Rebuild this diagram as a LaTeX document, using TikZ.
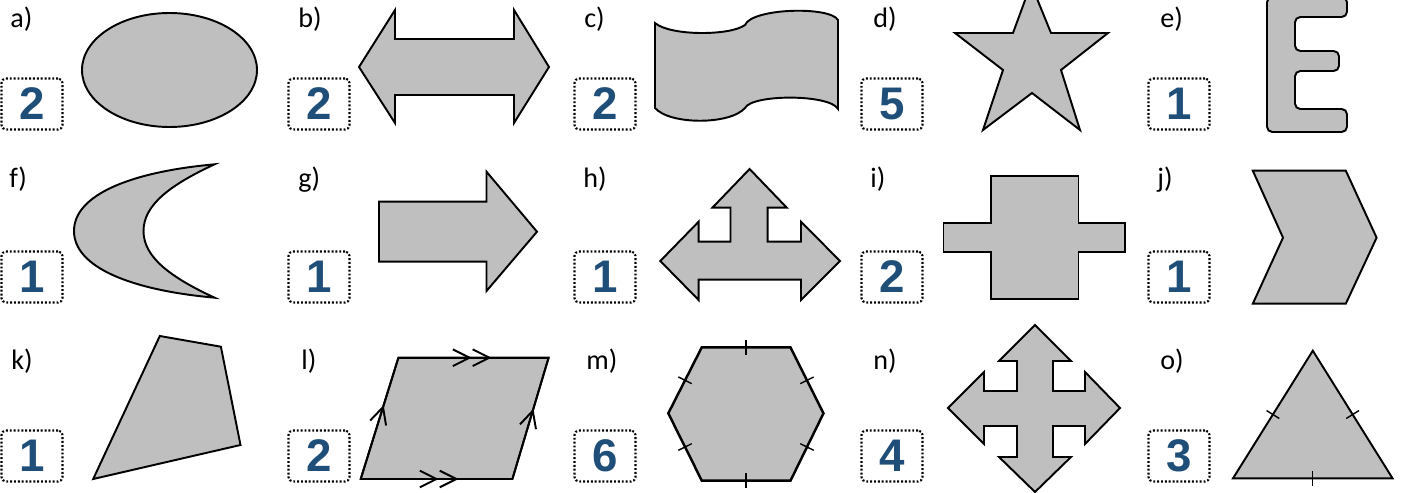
\documentclass[tikz,border=0pt]{standalone}
\usepackage{fontspec}
\setmainfont{Carlito}
\newfontfamily\numfont{Liberation Sans}
\usepackage{xcolor}
\usepackage{tikz}
\usetikzlibrary{calc}
\usetikzlibrary{arrows.meta}
\usetikzlibrary{decorations.markings}
\definecolor{numblue}{HTML}{1F4E79}
\definecolor{shapegray}{HTML}{BFBFBF}
\newcommand{\sidetick}[2]{\draw[tickline] ($(#1)!0.5!(#2)!0.15cm!90:(#2)$) -- ($(#1)!0.5!(#2)!0.15cm!-90:(#2)$);}

\begin{document}
\begin{tikzpicture}[
  x=0.02cm, y=-0.02cm,
  line join=miter,
  font=\fontsize{16}{18}\selectfont
]
\tikzset{
    numbox/.style = {rectangle, draw=black, rounded corners=2.5pt, line width=1.2pt, dash pattern=on 1.1pt off 1.1pt, minimum width=1.22cm, minimum height=1.02cm, inner sep=0pt, text=numblue, font=\numfont\bfseries\fontsize{26}{26}\selectfont},
    lbl/.style = {anchor=base west, inner sep=0pt},
    figure/.style = {draw=black, fill=shapegray, line width=1.1pt},
    tickline/.style = {draw=black, line width=0.8pt},
    twobarb/.style = {postaction={decorate}, decoration={markings, mark=at position #1 with {\arrow{Straight Barb[length=9.5pt,width=9.5pt] Straight Barb[length=9.5pt,width=9.5pt]}}}},
    onebarb/.style = {postaction={decorate}, decoration={markings, mark=at position #1 with {\arrow{Straight Barb[length=9.5pt,width=9.5pt]}}}},
}
\useasboundingbox (0,0) rectangle (1403,493);

% labels
\node[lbl] (la) at (10,28) {a)};
\node[lbl] (lb) at (298,28) {b)};
\node[lbl] (lc) at (584,28) {c)};
\node[lbl] (ld) at (873,28) {d)};
\node[lbl] (le) at (1160,28) {e)};
\node[lbl] (lf) at (9,188) {f)};
\node[lbl] (lg) at (298,188) {g)};
\node[lbl] (lh) at (583,188) {h)};
\node[lbl] (li) at (870,188) {i)};
\node[lbl] (lj) at (1157,188) {j)};
\node[lbl] (lk) at (11,369) {k)};
\node[lbl] (ll) at (301,369) {l)};
\node[lbl] (lm) at (586,369) {m)};
\node[lbl] (ln) at (873,369) {n)};
\node[lbl] (lo) at (1160,369) {o)};

% answer boxes
\node[numbox] (na) at (32,104) {2};
\node[numbox] (nb) at (319,104) {2};
\node[numbox] (nc) at (605,104) {2};
\node[numbox] (nd) at (892,104) {5};
\node[numbox] (ne) at (1179,104) {1};
\node[numbox] (nf) at (32,277) {1};
\node[numbox] (ng) at (319,277) {1};
\node[numbox] (nh) at (605,277) {1};
\node[numbox] (ni) at (892,277) {2};
\node[numbox] (nj) at (1179,277) {1};
\node[numbox] (nk) at (32,456) {1};
\node[numbox] (nl) at (319,456) {2};
\node[numbox] (nm) at (605,456) {6};
\node[numbox] (nn) at (892,456) {4};
\node[numbox] (no) at (1179,456) {3};

% a) ellipse
\draw[figure] (169.5,70) ellipse [x radius=87.5, y radius=57];

% b) double arrow
\draw[figure] (359,67) -- (395,10) -- (395,39) -- (514,39) -- (514,10) -- (549,67)
  -- (514,123) -- (514,95) -- (395,95) -- (395,123) -- cycle;

% c) wave
\draw[figure] (655,23) .. controls (670,36) and (730,36) .. (745,25)
  .. controls (752,8) and (830,6) .. (838,20) -- (838,109)
  .. controls (830,94) and (752,94) .. (745,108)
  .. controls (730,125) and (670,125) .. (655,108) -- cycle;

% d) star
\draw[figure] (1031,-16) -- (1051,33) -- (1108,33) -- (1061,70) -- (1080,130) -- (1032,93)
  -- (983,130) -- (1003,70) -- (955,33) -- (1013,33) -- cycle;

% e) letter E
\draw[figure, rounded corners=3pt] (1267,-3) -- (1347,-3) -- (1347,17) -- (1295,17) -- (1295,51)
  -- (1339,51) -- (1339,71) -- (1295,71) -- (1295,109) -- (1347,109) -- (1347,132)
  -- (1267,132) -- cycle;

% f) crescent
\draw[figure] (214.6,164.3) .. controls (130,172) and (74,195) .. (74,231)
  .. controls (74,267) and (130,290) .. (214.6,297.7)
  .. controls (170,277) and (143.5,257) .. (143.5,231)
  .. controls (143.5,205) and (170,185) .. cycle;

% g) arrow
\draw[figure] (379,201.7) -- (486.5,201.7) -- (486.5,171.7) -- (537,231.7) -- (486.5,291)
  -- (486.5,261.7) -- (379,261.7) -- cycle;

% h) three-way arrow
\draw[figure] (749.6,169) -- (786.8,207.7) -- (767.7,207.7) -- (767.7,241.7) -- (801,241.7)
  -- (801,221.7) -- (840,261) -- (801,300) -- (801,279.7) -- (698.6,279.7) -- (698.6,300)
  -- (660.3,261) -- (698.6,221.7) -- (698.6,241.7) -- (730.5,241.7) -- (730.5,207.7)
  -- (712.4,207.7) -- cycle;

% i) cross
\draw[figure] (990.8,175.7) -- (1078.5,175.7) -- (1078.5,222.7) -- (1125.3,222.7) -- (1125.3,251.7)
  -- (1078.5,251.7) -- (1078.5,299) -- (990.8,299) -- (990.8,251.7) -- (943.5,251.7)
  -- (943.5,222.7) -- (990.8,222.7) -- cycle;

% j) chevron
\draw[figure] (1252.8,170.7) -- (1345.8,170.7) -- (1376.6,237.7) -- (1345.8,303.7)
  -- (1252.8,303.7) -- (1283,237.7) -- cycle;

% k) quadrilateral
\draw[figure] (159.8,336) -- (220.9,346.7) -- (240.5,445) -- (93.2,479) -- cycle;

% l) parallelogram
\coordinate (l1) at (360.7,479);
\coordinate (l2) at (512.4,479);
\coordinate (l3) at (548.6,357.7);
\coordinate (l4) at (398.4,357.7);
\draw[figure] (l1) -- (l2) -- (l3) -- (l4) -- cycle;
\draw[line width=1.1pt, twobarb=0.62] (l4) -- (l3);
\draw[line width=1.1pt, twobarb=0.645] (l1) -- (l2);
\draw[line width=1.1pt, onebarb=0.61] (l1) -- (l4);
\draw[line width=1.1pt, onebarb=0.58] (l2) -- (l3);

% m) hexagon
\coordinate (m1) at (701.8,347.3);
\coordinate (m2) at (790.5,347.3);
\coordinate (m3) at (823.5,413.3);
\coordinate (m4) at (790.5,480.7);
\coordinate (m5) at (701.8,480.7);
\coordinate (m6) at (668.3,413.3);
\draw[figure, line width=1.4pt] (m1) -- (m2) -- (m3) -- (m4) -- (m5) -- (m6) -- cycle;
\sidetick{m1}{m2}
\sidetick{m2}{m3}
\sidetick{m3}{m4}
\sidetick{m4}{m5}
\sidetick{m5}{m6}
\sidetick{m6}{m1}

% n) four-way arrow
\draw[figure] (1035,325) -- (1071,361) -- (1053,361) -- (1053,391) -- (1085,391) -- (1085,372)
  -- (1120,408) -- (1085,444) -- (1085,426) -- (1053,426) -- (1053,457) -- (1071,457)
  -- (1035,492) -- (999,457) -- (1017,457) -- (1017,426) -- (984,426) -- (984,444)
  -- (948,408) -- (984,372) -- (984,391) -- (1017,391) -- (1017,361) -- (999,361) -- cycle;

% o) triangle
\coordinate (o1) at (1312.8,350.7);
\coordinate (o2) at (1392.5,478.3);
\coordinate (o3) at (1233,478.3);
\draw[figure] (o1) -- (o2) -- (o3) -- cycle;
\sidetick{o1}{o2}
\sidetick{o2}{o3}
\sidetick{o3}{o1}
\end{tikzpicture}
\end{document}
